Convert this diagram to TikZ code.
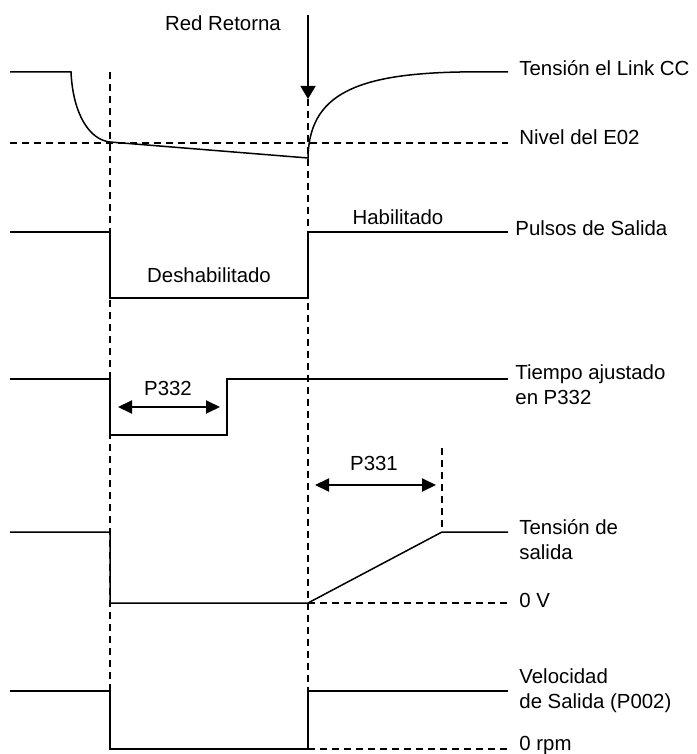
\documentclass[tikz,border=0pt]{standalone}
\usepackage{fontspec}
\setmainfont{Liberation Sans}
\usetikzlibrary{arrows.meta}

\tikzset{
  signal/.style={line width=0.75pt},
  guide/.style={line width=0.6pt, dash pattern=on 3.5pt off 2.5pt},
  span/.style={line width=1pt, {Triangle[width=6.5pt,length=7pt]}-{Triangle[width=6.5pt,length=7pt]}},
  tag/.style={anchor=west, inner sep=0pt, align=left},
}

\begin{document}
\begin{tikzpicture}[x=0.5pt, y=-0.5pt, font=\fontsize{10.2}{12.5}\selectfont]

\useasboundingbox (0,0) rectangle (696,754);

% time marks
\coordinate (t1) at (110,0);
\coordinate (t2) at (308,0);
\coordinate (t3) at (442,0);

% DC link
\draw[signal] (10,72) -- (71,72)
  .. controls (73,115) and (90,140) .. (t1|-0,142)
  -- (t2|-0,158)
  .. controls (309,95) and (355,74) .. (460,72) -- (508,72);
\draw[guide] (10,143) -- (508,143);
\node[tag] (link) at (519,68) {Tensión el Link CC};
\node[tag] (e02) at (519,137) {Nivel del E02};

% mains comes back
\node (ret) at (223,23) {Red Retorna};
\coordinate (ret-top) at (308,15);
\coordinate (ret-tip) at (308,99);
\draw[signal, -{Triangle[width=7.5pt,length=6.5pt]}] (ret-top) -- (ret-tip);

\draw[guide] (t1|-0,72) -- (t1|-0,691);
\draw[guide] (ret-tip) -- (t2|-0,691);

% pulses
\draw[signal] (10,232) -- (t1|-0,232) -- (t1|-0,298) -- (t2|-0,298) -- (t2|-0,232) -- (508,232);
\node (desh) at (209,275) {Deshabilitado};
\node (hab) at (398,217) {Habilitado};
\node[tag] (pulses) at (515,228) {Pulsos de Salida};

% P332
\draw[signal] (10,379) -- (t1|-0,379) -- (t1|-0,435) -- (227,435) -- (227,379) -- (508,379);
\coordinate (p332-l) at (118,407);
\coordinate (p332-r) at (220,407);
\draw[span] (p332-l) -- (p332-r);
\node (p332) at (168,388) {P332};
\node[tag] (tiempo) at (515,385) {Tiempo ajustado\\en P332};

% output voltage
\draw[signal] (10,532) -- (t1|-0,532) -- (t1|-0,603) -- (t2|-0,603) -- (t3|-0,532) -- (508,532);
\draw[guide] (t2|-0,603) -- (508,603);
\draw[guide] (t3|-0,448) -- (t3|-0,532);
\coordinate (p331-l) at (315,485);
\coordinate (p331-r) at (436,485);
\draw[span] (p331-l) -- (p331-r);
\node (p331) at (374,463) {P331};
\node[tag] (vout) at (519,540) {Tensión de\\salida};
\node[tag] (zero-v) at (519,600) {0 V};

% speed
\draw[signal] (10,691) -- (t1|-0,691) -- (t1|-0,749) -- (t2|-0,749) -- (t2|-0,691) -- (508,691);
\draw[guide] (t2|-0,749) -- (508,749);
\node[tag] (speed) at (519,691) {Velocidad\\de Salida (P002)};
\node[tag] (zero-rpm) at (519,745) {0 rpm};

\end{tikzpicture}
\end{document}
